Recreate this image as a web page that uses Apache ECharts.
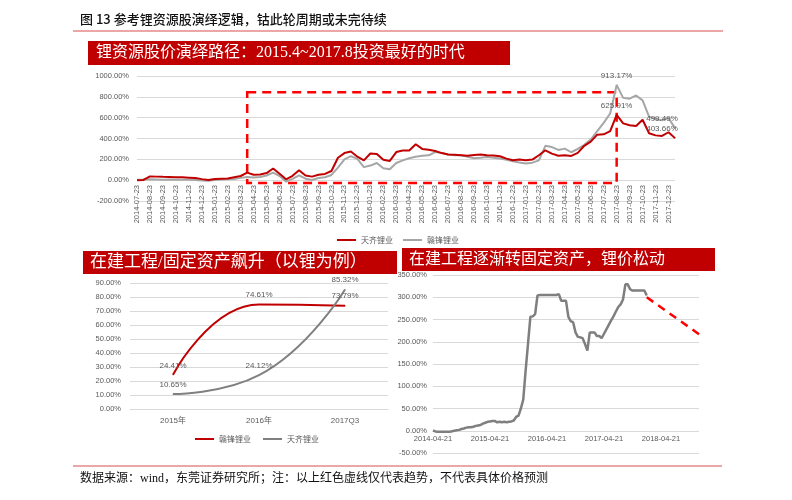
<!DOCTYPE html>
<html><head><meta charset="utf-8">
<script src="https://cdn.jsdelivr.net/npm/echarts@6/dist/echarts.min.js"></script>
<style>html,body{margin:0;padding:0;background:#fff}#c{width:792px;height:500px}</style>
</head><body><div id="c"></div>
<script>
// ---------- Texts ----------
const figTitle = '图 13 参考锂资源股演绎逻辑，钴此轮周期或未完待续';
const banner1 = '锂资源股价演绎路径：2015.4~2017.8投资最好的时代';
const banner2 = '在建工程/固定资产飙升（以锂为例）';
const banner3 = '在建工程逐渐转固定资产，锂价松动';
const footer = '数据来源：wind，东莞证券研究所；注：以上红色虚线仅代表趋势，不代表具体价格预测';

// ---------- Chart 1: stock performance (semi-monthly readings) ----------
const c1Names = ['天齐锂业', '赣锋锂业'];
const tianqiPerf = [0,2,36,34,32,31,29,27,24,20,10,2,12,14,16,28,40,72,52,55,68,112,62,8,42,96,44,34,52,60,88,215,260,275,225,190,256,252,195,185,270,285,285,345,300,292,280,260,246,244,240,234,242,246,240,236,230,207,191,198,192,198,239,287,255,235,239,233,262,330,370,437,440,470,625.91,545,528,520,580,450,430,425,460,403.66];
const ganfengPerf = [5,6,8,7,5,6,4,5,3,2,-4,-6,2,6,8,10,22,30,26,30,45,72,40,-14,12,46,14,2,20,28,50,120,200,230,205,125,140,165,115,105,165,190,210,225,235,239,270,262,246,240,238,225,210,215,222,215,207,195,182,170,160,168,190,330,318,290,303,268,300,340,390,470,550,640,913.17,790,782,813,766,610,585,575,597,499.49];
const boxDates = ['2015-04-08', '2017-08-23'];
const boxValues = [845, -28];
const c1LabelIdx = [74, 83];

// ---------- Chart 2: construction in progress / fixed assets ----------
const c2Cats = ['2015年', '2016年', '2017Q3'];
const c2Names = ['赣锋锂业', '天齐锂业'];
const c2Ganfeng = [24.41, 74.61, 73.79];
const c2Tianqi = [10.65, 24.12, 85.32];

// ---------- Chart 3: lithium price change (semi-monthly readings) ----------
const priceValues = [0.5,-1.5,-2,-2,-2.5,-2.5,-2.5,-2.5,-1,0,1,2,4,5,7,8,8,9,11,12,13,16,18,20,21,22,22,19,20,19,20,19,20,21,23,31,34,50,70,135,195,256,257,262,304,305,305,305,305,305,305,305,305,307,292,292,292,256,246,244,221,211,210,208,195,180,221,221,221,213,213,208,218,228,238,248,257,268,278,284,295,329,329,318,315,315,315,315,315,315,304];
const trendDates = ['2018-01-21', '2018-12-21'];
const trendValues = [300, 217];

// ---------- date categories ----------
function pad(n){return n<10?'0'+n:''+n;}
function semiMonthly(y, m, day, midDay, count){
  const out=[]; let yy=y, mm=m;
  for(let i=0;i<count;i++){
    if(i%2===0){ out.push(yy+'-'+pad(mm)+'-'+day); }
    else { mm++; if(mm>12){mm=1;yy++;} out.push(yy+'-'+pad(mm)+'-'+midDay); }
  }
  return out;
}
const c1Dates = semiMonthly(2014, 7, '23', '08', tianqiPerf.length);
const c3Dates = semiMonthly(2014, 4, '21', '06', 113);

const RED = '#C00000', GRAY1 = '#A6A6A6', GRAY2 = '#808080', GRAY3 = '#7F7F7F';
const LBL = '#595959', GRID = '#D9D9D9';
const FONT = '"Liberation Sans","Noto Sans CJK SC",sans-serif';
const CJK = '"Noto Sans CJK SC",sans-serif';
const BFONT = '"Liberation Serif","Noto Sans CJK SC",serif';

function withLabels(vals, idxs, opts){
  return vals.map((v,i)=> idxs.indexOf(i) >= 0
    ? {value:v, symbol:'circle', symbolSize:1, label:Object.assign({show:true, position:'top', color:LBL, fontSize:8, fontFamily:FONT, formatter:p=>p.value.toFixed(2)+'%'}, opts[idxs.indexOf(i)])}
    : v);
}

const chart = echarts.init(document.getElementById('c'), null, {renderer:'canvas'});
const option = {
  animation:false,
  backgroundColor:'#fff',
  graphic:[
    {type:'text', style:{text:figTitle, x:80, y:19, fill:'#111', font:'500 13px '+CJK, verticalAlign:'middle', textVerticalAlign:'middle'}},
    {type:'line', shape:{x1:73,y1:31,x2:723,y2:31}, style:{stroke:'#E58A8A', lineWidth:1.5}},
    {type:'rect', shape:{x:88,y:41,width:422,height:24}, style:{fill:RED}},
    {type:'text', style:{text:banner1, x:96, y:53, fill:'#fff', font:'16px '+BFONT, verticalAlign:'middle', textVerticalAlign:'middle'}},
    {type:'rect', shape:{x:83,y:251,width:314,height:23}, style:{fill:RED}},
    {type:'text', style:{text:banner2, x:90, y:263, fill:'#fff', font:'17px '+BFONT, verticalAlign:'middle', textVerticalAlign:'middle'}},
    {type:'rect', shape:{x:402,y:248,width:313,height:23}, style:{fill:RED}},
    {type:'text', style:{text:banner3, x:409, y:260, fill:'#fff', font:'16px '+BFONT, verticalAlign:'middle', textVerticalAlign:'middle'}},
    {type:'line', shape:{x1:73,y1:466,x2:722,y2:466}, style:{stroke:'#E58A8A', lineWidth:1.5}},
    {type:'text', style:{text:footer, x:80, y:479, fill:'#111', font:'12px '+BFONT, verticalAlign:'middle', textVerticalAlign:'middle'}}
  ],
  legend:[
    {left:332, top:231, itemWidth:19, itemHeight:2, itemGap:10, icon:'rect', selectedMode:false,
     textStyle:{fontSize:8, color:LBL, fontFamily:CJK},
     data:[{name:c1Names[0], itemStyle:{color:RED}, lineStyle:{color:RED,width:2}},
           {name:c1Names[1], itemStyle:{color:GRAY1}, lineStyle:{color:GRAY1,width:2}}]},
    {left:190, top:430, itemWidth:19, itemHeight:2, itemGap:12, icon:'rect', selectedMode:false,
     textStyle:{fontSize:8, color:LBL, fontFamily:CJK},
     data:[{name:c2Names[0], itemStyle:{color:RED}, lineStyle:{color:RED,width:2}},
           {name:c2Names[1], itemStyle:{color:GRAY2}, lineStyle:{color:GRAY2,width:2}}]}
  ],
  grid:[
    {left:137, right:117, top:76, bottom:299},
    {left:130, right:404, top:283, bottom:91},
    {left:433, right:93, top:275, bottom:47}
  ],
  xAxis:[
    {type:'category', gridIndex:0, data:c1Dates, boundaryGap:false,
     axisLine:{onZero:false, show:false}, axisTick:{show:false},
     axisLabel:{rotate:90, interval:1, fontSize:7.5, color:LBL, fontFamily:FONT, margin:-16}},
    {type:'category', gridIndex:1, data:c2Cats, boundaryGap:true,
     axisLine:{lineStyle:{color:GRID}}, axisTick:{show:false},
     axisLabel:{fontSize:8, color:LBL, fontFamily:FONT, margin:8}},
    {type:'category', gridIndex:2, data:c3Dates, boundaryGap:false,
     axisLine:{onZero:false, show:false}, axisTick:{show:false},
     axisLabel:{interval:23, fontSize:7.5, color:LBL, fontFamily:FONT, margin:-18}}
  ],
  yAxis:[
    {type:'value', gridIndex:0, min:-200, max:1000, interval:200,
     axisLabel:{formatter:v=>v.toFixed(2)+'%', fontSize:7.5, color:LBL, fontFamily:FONT, margin:8},
     splitLine:{lineStyle:{color:GRID}}, axisLine:{show:false}, axisTick:{show:false}},
    {type:'value', gridIndex:1, min:0, max:90, interval:10,
     axisLabel:{formatter:v=>v.toFixed(2)+'%', fontSize:7.5, color:LBL, fontFamily:FONT, margin:9},
     splitLine:{lineStyle:{color:GRID}}, axisLine:{show:false}, axisTick:{show:false}},
    {type:'value', gridIndex:2, min:-50, max:350, interval:50,
     axisLabel:{formatter:v=>v.toFixed(2)+'%', fontSize:7.5, color:LBL, fontFamily:FONT, margin:6},
     splitLine:{lineStyle:{color:GRID}}, axisLine:{show:false}, axisTick:{show:false}}
  ],
  series:[
    {name:c1Names[1], type:'line', xAxisIndex:0, yAxisIndex:0, symbol:'none', showAllSymbol:true,
     lineStyle:{color:GRAY1, width:2}, itemStyle:{color:GRAY1},
     data:withLabels(ganfengPerf, c1LabelIdx, [{}, {offset:[-13,0]}])},
    {name:c1Names[0], type:'line', xAxisIndex:0, yAxisIndex:0, symbol:'none', showAllSymbol:true,
     lineStyle:{color:RED, width:2}, itemStyle:{color:RED},
     data:withLabels(tianqiPerf, c1LabelIdx, [{}, {offset:[-13,0]}]),
     markArea:{silent:true, itemStyle:{color:'rgba(0,0,0,0)', borderColor:'#FF0000', borderWidth:2.5, borderType:[9,6]},
       data:[[{xAxis:boxDates[0], yAxis:boxValues[0]}, {xAxis:boxDates[1], yAxis:boxValues[1]}]]}},
    {name:c2Names[0], type:'line', xAxisIndex:1, yAxisIndex:1, smooth:0.5, symbol:'circle', symbolSize:1, showAllSymbol:true,
     lineStyle:{color:RED, width:2}, itemStyle:{color:RED},
     label:{show:true, position:'top', color:LBL, fontSize:8, fontFamily:FONT, formatter:p=>p.value.toFixed(2)+'%'},
     data:c2Ganfeng},
    {name:c2Names[1], type:'line', xAxisIndex:1, yAxisIndex:1, smooth:0.5, symbol:'circle', symbolSize:1, showAllSymbol:true,
     lineStyle:{color:GRAY2, width:2}, itemStyle:{color:GRAY2},
     label:{show:true, position:'top', color:LBL, fontSize:8, fontFamily:FONT, formatter:p=>p.value.toFixed(2)+'%'},
     data:c2Tianqi},
    {name:'锂价', type:'line', xAxisIndex:2, yAxisIndex:2, symbol:'none',
     lineStyle:{color:GRAY3, width:2.5}, itemStyle:{color:GRAY3}, data:priceValues},
    {name:'趋势', type:'line', xAxisIndex:2, yAxisIndex:2, symbol:'none',
     lineStyle:{color:'#FF0000', width:2.5, type:[8,6]}, itemStyle:{color:'#FF0000'},
     data:trendDates.map((d,i)=>[d, trendValues[i]])}
  ]
};
chart.setOption(option);
</script></body></html>
